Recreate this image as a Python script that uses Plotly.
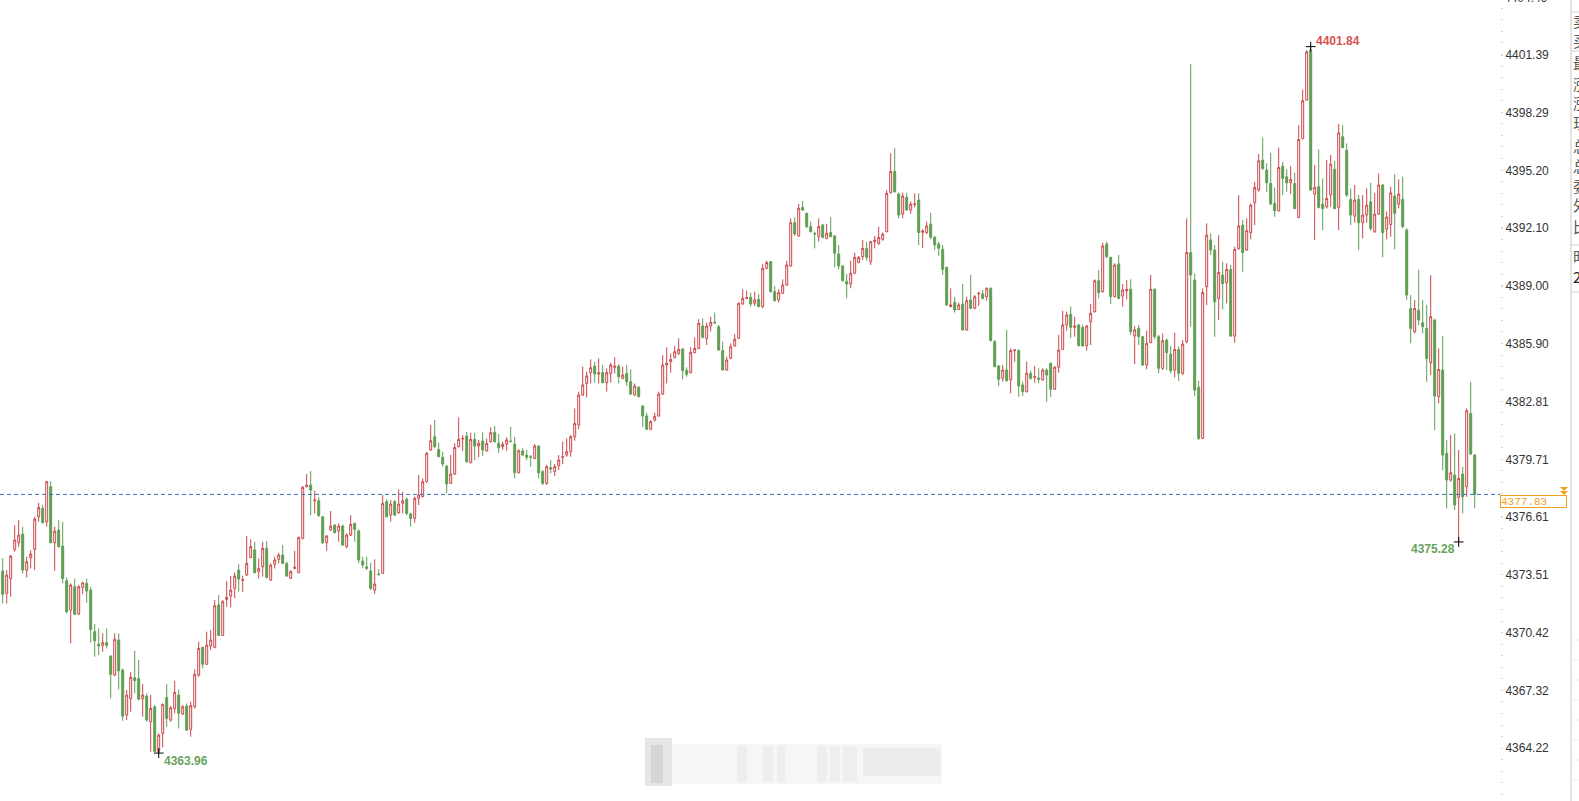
import plotly.graph_objects as go

# ---------------- data ----------------
opens = [
    4373.72, 4372.52, 4373.32, 4374.88, 4375.24, 4375.70, 4373.77, 4374.43, 4374.88, 4376.63,
    4377.08, 4376.36, 4378.24, 4375.24, 4375.92, 4375.06, 4373.20, 4371.63, 4372.88, 4371.41,
    4372.84, 4373.06, 4372.70, 4370.47, 4369.80, 4369.73, 4369.88, 4369.16, 4368.14, 4370.02,
    4368.41, 4366.00, 4366.89, 4368.00, 4367.95, 4366.87, 4367.02, 4365.64, 4366.44, 4364.05,
    4365.01, 4366.94, 4365.73, 4366.35, 4367.07, 4366.05, 4366.48, 4365.23, 4366.44, 4368.14,
    4369.63, 4368.72, 4369.70, 4369.63, 4371.90, 4370.27, 4372.20, 4372.38, 4372.79, 4373.77,
    4373.22, 4373.51, 4374.45, 4374.85, 4373.69, 4373.95, 4374.94, 4373.24, 4374.08, 4374.35,
    4374.58, 4374.13, 4373.33, 4373.86, 4373.63, 4375.47, 4378.24, 4378.33, 4377.49, 4377.49,
    4376.63, 4375.24, 4375.92, 4376.19, 4375.87, 4376.13, 4375.03, 4375.65, 4376.28, 4375.87,
    4374.26, 4373.95, 4373.72, 4372.70, 4373.56, 4373.60, 4377.44, 4376.72, 4377.44, 4376.85,
    4377.35, 4377.58, 4376.78, 4376.54, 4377.62, 4377.71, 4378.51, 4380.21, 4380.92, 4380.24,
    4379.82, 4379.35, 4378.42, 4378.92, 4380.39, 4380.80, 4380.96, 4379.53, 4380.78, 4380.42,
    4380.69, 4380.17, 4380.66, 4381.16, 4380.57, 4380.39, 4380.53, 4380.69, 4380.53, 4378.99,
    4380.16, 4379.94, 4379.85, 4379.76, 4380.42, 4379.05, 4378.42, 4379.26, 4379.05, 4379.37,
    4379.82, 4379.94, 4380.12, 4380.92, 4381.55, 4383.16, 4383.78, 4384.36, 4384.71, 4384.28,
    4384.36, 4383.82, 4384.32, 4384.64, 4384.71, 4384.05, 4384.32, 4383.87, 4383.16, 4383.57,
    4382.57, 4382.03, 4381.32, 4381.82, 4382.03, 4383.21, 4384.77, 4384.95, 4385.18, 4385.39,
    4385.63, 4384.47, 4384.36, 4385.43, 4385.66, 4386.86, 4386.20, 4386.86, 4387.06, 4386.82,
    4385.54, 4384.50, 4385.13, 4385.79, 4386.20, 4388.04, 4388.34, 4388.40, 4388.08, 4388.29,
    4387.90, 4389.95, 4390.31, 4388.70, 4388.26, 4388.61, 4389.06, 4390.08, 4392.40, 4391.69,
    4393.22, 4392.90, 4392.19, 4391.83, 4391.65, 4392.28, 4391.56, 4391.87, 4391.69, 4390.72,
    4390.08, 4389.24, 4389.11, 4389.69, 4390.26, 4390.58, 4391.02, 4390.31, 4391.38, 4391.29,
    4391.51, 4391.92, 4394.01, 4395.14, 4393.94, 4392.87, 4393.76, 4393.08, 4393.37, 4393.62,
    4391.88, 4391.87, 4392.33, 4391.62, 4391.26, 4390.97, 4390.01, 4387.90, 4388.13, 4387.74,
    4388.04, 4386.65, 4388.26, 4387.81, 4388.58, 4388.58, 4388.43, 4388.88, 4386.02, 4384.72,
    4384.06, 4384.50, 4383.97, 4385.54, 4385.54, 4383.70, 4383.34, 4384.32, 4384.11, 4384.06,
    4383.97, 4384.50, 4384.86, 4383.47, 4384.65, 4385.61, 4386.92, 4387.49, 4386.79, 4386.92,
    4386.79, 4385.81, 4387.09, 4387.63, 4389.29, 4388.70, 4391.26, 4390.54, 4388.43, 4390.19,
    4388.47, 4388.74, 4388.83, 4386.33, 4386.74, 4386.29, 4384.77, 4385.97, 4388.83, 4386.29,
    4384.59, 4386.10, 4385.35, 4384.50, 4385.60, 4384.32, 4386.02, 4390.80, 4389.32, 4383.57,
    4380.83, 4388.96, 4391.47, 4390.93, 4388.34, 4389.59, 4389.18, 4389.89, 4386.32, 4391.02,
    4392.27, 4390.93, 4391.86, 4393.47, 4394.15, 4395.76, 4395.22, 4394.50, 4393.43, 4393.04,
    4395.43, 4394.86, 4394.54, 4394.50, 4392.68, 4396.92, 4398.97, 4401.65, 4393.93, 4394.33,
    4393.40, 4393.25, 4393.88, 4395.26, 4393.22, 4397.01, 4396.29, 4393.65, 4392.75, 4393.65,
    4392.40, 4392.81, 4393.52, 4391.91, 4392.86, 4394.42, 4392.05, 4392.30, 4393.83, 4393.40,
    4393.65, 4392.01, 4387.80, 4386.55, 4387.71, 4387.03, 4386.73, 4384.89, 4387.18, 4383.07,
    4384.50, 4380.03, 4378.60, 4378.87, 4377.67, 4378.92, 4378.24, 4382.17, 4379.94,
]
highs = [
    4374.40, 4373.77, 4374.58, 4376.18, 4376.45, 4376.10, 4374.49, 4374.84, 4376.63, 4377.38,
    4377.26, 4378.56, 4378.54, 4376.10, 4376.45, 4376.36, 4373.38, 4373.06, 4373.32, 4372.97,
    4373.15, 4373.32, 4372.88, 4370.88, 4370.64, 4370.38, 4370.64, 4369.21, 4370.38, 4370.38,
    4368.50, 4367.34, 4368.30, 4369.45, 4368.95, 4367.66, 4367.16, 4367.07, 4366.53, 4365.01,
    4366.62, 4367.66, 4366.48, 4367.84, 4367.37, 4366.53, 4366.62, 4366.71, 4368.45, 4369.93,
    4369.66, 4370.47, 4370.56, 4372.17, 4372.43, 4372.17, 4373.18, 4373.45, 4373.65, 4374.10,
    4373.47, 4375.60, 4375.42, 4375.29, 4374.40, 4375.29, 4375.33, 4374.13, 4374.49, 4374.70,
    4375.12, 4374.22, 4373.77, 4374.81, 4375.56, 4378.28, 4378.92, 4379.08, 4378.03, 4377.67,
    4376.67, 4375.65, 4376.94, 4376.22, 4376.28, 4376.22, 4375.74, 4376.72, 4376.31, 4375.95,
    4374.49, 4374.49, 4374.17, 4374.35, 4373.81, 4377.80, 4377.56, 4377.53, 4377.53, 4378.10,
    4377.98, 4377.67, 4376.85, 4377.71, 4378.87, 4378.69, 4380.12, 4381.55, 4381.82, 4380.60,
    4380.12, 4379.41, 4379.94, 4380.57, 4381.96, 4381.01, 4381.19, 4381.14, 4381.14, 4380.75,
    4381.16, 4380.83, 4381.42, 4381.50, 4381.07, 4380.66, 4380.89, 4381.46, 4380.92, 4380.25,
    4380.30, 4380.21, 4379.94, 4380.53, 4380.48, 4379.14, 4379.41, 4379.67, 4379.46, 4379.94,
    4380.66, 4380.83, 4381.01, 4382.44, 4383.34, 4384.68, 4384.41, 4385.07, 4384.95, 4385.12,
    4384.77, 4384.59, 4384.89, 4385.18, 4384.80, 4384.68, 4384.77, 4384.53, 4383.78, 4383.64,
    4382.62, 4382.21, 4381.82, 4382.21, 4383.34, 4385.30, 4385.72, 4385.39, 4385.79, 4386.20,
    4385.66, 4384.64, 4385.72, 4386.25, 4387.22, 4387.27, 4387.04, 4387.36, 4387.58, 4386.91,
    4386.02, 4385.22, 4385.93, 4386.43, 4388.11, 4388.83, 4388.76, 4388.65, 4388.70, 4388.58,
    4390.18, 4390.36, 4390.35, 4389.01, 4388.83, 4389.36, 4390.36, 4392.63, 4392.69, 4393.40,
    4393.56, 4392.94, 4392.46, 4391.92, 4392.63, 4392.33, 4392.33, 4392.69, 4391.74, 4391.20,
    4390.13, 4389.65, 4390.36, 4390.79, 4390.61, 4391.47, 4391.38, 4391.43, 4391.69, 4392.19,
    4391.87, 4394.15, 4396.12, 4396.39, 4394.01, 4394.01, 4394.01, 4393.53, 4393.97, 4393.97,
    4392.04, 4392.46, 4392.94, 4391.69, 4391.38, 4391.20, 4390.04, 4388.88, 4388.43, 4388.11,
    4389.11, 4388.43, 4389.60, 4388.52, 4388.70, 4388.79, 4388.93, 4388.93, 4386.11, 4384.77,
    4384.77, 4386.65, 4385.66, 4385.61, 4385.61, 4383.88, 4384.95, 4384.47, 4384.72, 4384.59,
    4384.59, 4384.59, 4384.90, 4384.72, 4386.38, 4387.68, 4387.63, 4387.90, 4387.36, 4386.97,
    4386.92, 4386.92, 4388.04, 4389.36, 4389.86, 4391.33, 4391.38, 4390.58, 4390.22, 4390.67,
    4389.11, 4389.33, 4389.36, 4386.86, 4386.92, 4386.33, 4386.61, 4389.60, 4388.88, 4386.38,
    4386.46, 4386.19, 4385.78, 4386.50, 4385.78, 4386.10, 4392.63, 4400.90, 4389.68, 4383.92,
    4388.87, 4392.36, 4391.82, 4391.20, 4391.73, 4390.30, 4390.22, 4390.13, 4391.11, 4393.88,
    4392.54, 4392.63, 4393.43, 4394.59, 4396.08, 4396.97, 4395.58, 4396.15, 4394.29, 4396.43,
    4395.66, 4395.26, 4395.43, 4395.08, 4397.63, 4399.54, 4401.65, 4401.84, 4395.49, 4396.33,
    4394.77, 4395.76, 4396.03, 4395.72, 4397.69, 4397.63, 4396.65, 4394.24, 4394.42, 4393.88,
    4393.88, 4394.24, 4394.54, 4394.00, 4395.04, 4394.47, 4393.00, 4394.33, 4395.01, 4394.72,
    4394.87, 4392.10, 4388.52, 4388.25, 4389.87, 4388.25, 4388.00, 4389.59, 4387.25, 4385.66,
    4386.32, 4380.74, 4381.01, 4381.10, 4380.21, 4379.31, 4382.44, 4383.87, 4379.99,
]
lows = [
    4371.98, 4371.98, 4372.34, 4374.76, 4375.02, 4373.59, 4373.38, 4373.86, 4373.77, 4376.36,
    4376.27, 4376.10, 4375.20, 4373.74, 4374.99, 4373.06, 4371.45, 4369.84, 4371.36, 4371.36,
    4372.49, 4372.02, 4369.88, 4369.13, 4369.21, 4369.39, 4369.57, 4366.89, 4368.09, 4367.37,
    4365.69, 4365.73, 4366.18, 4367.16, 4366.80, 4365.91, 4365.64, 4364.03, 4364.02, 4363.96,
    4364.26, 4365.37, 4365.64, 4366.09, 4365.28, 4366.00, 4365.15, 4364.84, 4366.35, 4368.05,
    4368.50, 4368.68, 4369.49, 4369.57, 4370.24, 4370.24, 4371.81, 4371.77, 4372.26, 4372.61,
    4372.61, 4373.45, 4374.40, 4373.60, 4373.33, 4373.42, 4373.33, 4373.20, 4373.86, 4374.13,
    4374.10, 4373.42, 4373.29, 4373.83, 4373.60, 4375.42, 4378.21, 4376.72, 4376.81, 4376.63,
    4375.17, 4374.81, 4375.88, 4375.74, 4375.29, 4375.06, 4374.94, 4375.60, 4375.29, 4374.13,
    4373.86, 4373.77, 4372.70, 4372.49, 4373.51, 4373.56, 4376.60, 4376.37, 4376.67, 4376.78,
    4376.81, 4376.72, 4376.10, 4376.31, 4377.26, 4377.67, 4378.46, 4380.17, 4380.30, 4379.82,
    4379.32, 4377.89, 4378.39, 4378.87, 4380.35, 4380.17, 4379.53, 4379.49, 4379.67, 4379.82,
    4379.89, 4380.12, 4380.60, 4380.60, 4380.07, 4380.21, 4380.17, 4380.64, 4378.69, 4378.96,
    4379.89, 4379.67, 4379.32, 4379.71, 4378.69, 4378.33, 4378.33, 4378.96, 4378.82, 4379.14,
    4379.46, 4379.85, 4379.85, 4380.71, 4381.32, 4383.11, 4383.03, 4383.78, 4383.82, 4383.78,
    4383.78, 4383.34, 4383.82, 4384.32, 4383.78, 4384.00, 4383.64, 4383.16, 4383.11, 4383.03,
    4381.42, 4381.28, 4381.28, 4381.73, 4382.00, 4383.16, 4383.78, 4384.36, 4385.12, 4385.30,
    4384.00, 4384.14, 4384.32, 4385.40, 4385.61, 4386.20, 4385.84, 4386.56, 4386.97, 4385.54,
    4384.47, 4384.47, 4385.07, 4385.75, 4386.15, 4387.99, 4388.29, 4387.90, 4387.93, 4387.86,
    4387.81, 4389.90, 4388.65, 4388.17, 4388.11, 4388.58, 4389.01, 4390.04, 4391.69, 4391.65,
    4393.04, 4392.10, 4391.87, 4391.02, 4391.38, 4391.56, 4391.51, 4391.62, 4390.01, 4389.90,
    4389.24, 4388.34, 4388.88, 4389.65, 4390.22, 4390.40, 4390.36, 4390.13, 4391.02, 4391.20,
    4391.43, 4391.87, 4393.97, 4394.01, 4392.63, 4392.63, 4393.04, 4392.87, 4393.22, 4391.20,
    4391.03, 4391.79, 4391.51, 4390.94, 4390.62, 4389.60, 4387.93, 4387.86, 4387.58, 4387.72,
    4386.61, 4386.61, 4387.76, 4387.76, 4387.93, 4388.29, 4388.22, 4386.02, 4384.65, 4383.64,
    4383.88, 4383.88, 4383.25, 4384.95, 4383.07, 4383.11, 4383.29, 4383.97, 4383.82, 4383.79,
    4383.93, 4382.80, 4383.07, 4383.43, 4384.36, 4385.57, 4386.61, 4386.20, 4386.29, 4385.75,
    4385.75, 4385.54, 4385.84, 4387.58, 4388.34, 4388.65, 4390.49, 4388.04, 4388.40, 4388.29,
    4387.90, 4388.29, 4386.38, 4384.82, 4385.84, 4384.72, 4384.54, 4385.93, 4386.15, 4384.32,
    4384.50, 4384.50, 4384.32, 4384.10, 4383.92, 4384.23, 4385.93, 4386.82, 4383.10, 4380.74,
    4380.80, 4387.98, 4390.66, 4386.28, 4387.18, 4387.75, 4388.07, 4386.28, 4385.96, 4390.93,
    4389.77, 4390.89, 4391.50, 4392.27, 4394.06, 4395.22, 4394.06, 4393.34, 4392.72, 4392.99,
    4393.88, 4394.06, 4393.93, 4393.11, 4392.63, 4396.86, 4398.94, 4394.11, 4391.47, 4393.16,
    4392.00, 4393.16, 4393.25, 4393.11, 4392.00, 4396.38, 4393.79, 4392.27, 4392.40, 4390.93,
    4391.56, 4392.40, 4391.97, 4391.86, 4392.81, 4390.54, 4391.50, 4391.64, 4390.97, 4393.17,
    4392.10, 4388.25, 4385.93, 4386.46, 4386.91, 4386.46, 4383.87, 4384.23, 4381.28, 4382.71,
    4379.14, 4377.08, 4378.51, 4376.99, 4375.28, 4376.81, 4377.70, 4379.94, 4377.08,
]
closes = [
    4372.47, 4373.50, 4374.52, 4375.38, 4375.65, 4373.77, 4374.22, 4374.63, 4376.51, 4377.13,
    4376.31, 4378.51, 4375.24, 4375.86, 4375.02, 4373.32, 4371.54, 4372.97, 4371.40, 4372.88,
    4373.09, 4372.65, 4370.59, 4369.98, 4369.70, 4369.88, 4369.73, 4368.18, 4370.06, 4368.37,
    4365.94, 4367.07, 4368.02, 4367.84, 4366.84, 4367.07, 4365.73, 4366.35, 4364.05, 4364.92,
    4366.57, 4365.82, 4366.39, 4367.21, 4366.09, 4366.44, 4365.19, 4366.50, 4368.18, 4369.57,
    4368.72, 4369.75, 4370.02, 4371.86, 4370.27, 4372.08, 4372.31, 4372.70, 4373.45, 4373.29,
    4373.26, 4374.13, 4375.03, 4373.63, 4373.86, 4374.94, 4373.38, 4374.04, 4374.31, 4374.58,
    4374.13, 4373.45, 4373.69, 4373.92, 4375.53, 4378.21, 4378.33, 4378.06, 4377.53, 4376.69,
    4375.24, 4375.60, 4376.13, 4375.78, 4376.13, 4375.12, 4375.65, 4376.22, 4375.95, 4374.31,
    4374.04, 4373.86, 4372.79, 4373.02, 4373.52, 4377.35, 4376.63, 4377.31, 4376.72, 4377.31,
    4377.49, 4376.81, 4376.54, 4377.62, 4377.80, 4378.51, 4380.03, 4380.71, 4380.39, 4379.85,
    4379.46, 4378.39, 4378.92, 4380.35, 4380.78, 4380.83, 4379.58, 4380.78, 4380.42, 4380.57,
    4380.21, 4380.57, 4381.14, 4380.66, 4380.33, 4380.51, 4380.75, 4380.66, 4378.99, 4380.17,
    4379.94, 4379.82, 4379.82, 4380.42, 4378.99, 4378.42, 4379.32, 4379.19, 4379.32, 4379.67,
    4379.85, 4380.12, 4380.92, 4381.64, 4383.16, 4383.70, 4384.18, 4384.62, 4384.28, 4384.36,
    4383.82, 4384.36, 4384.77, 4384.71, 4384.14, 4384.23, 4383.87, 4383.21, 4383.64, 4383.07,
    4382.03, 4381.32, 4381.73, 4382.00, 4383.21, 4384.77, 4384.86, 4385.07, 4385.48, 4385.61,
    4384.47, 4384.27, 4385.45, 4385.66, 4387.00, 4386.25, 4386.86, 4387.06, 4387.02, 4385.57,
    4384.50, 4385.04, 4385.75, 4386.15, 4388.08, 4388.34, 4388.38, 4388.04, 4388.26, 4387.90,
    4389.95, 4390.26, 4388.70, 4388.22, 4388.65, 4389.06, 4390.13, 4392.40, 4391.79, 4393.17,
    4393.08, 4392.19, 4391.92, 4391.79, 4392.19, 4391.61, 4391.83, 4391.65, 4390.76, 4390.08,
    4389.29, 4389.11, 4389.69, 4390.54, 4390.54, 4391.02, 4390.54, 4391.38, 4391.47, 4391.61,
    4391.79, 4393.97, 4395.14, 4394.06, 4392.81, 4393.83, 4393.08, 4393.40, 4393.40, 4391.87,
    4391.96, 4392.22, 4391.62, 4391.20, 4391.03, 4389.90, 4387.99, 4387.99, 4387.72, 4387.99,
    4386.65, 4388.22, 4387.81, 4388.43, 4388.61, 4388.34, 4388.88, 4386.08, 4384.68, 4384.00,
    4384.50, 4383.93, 4385.54, 4385.57, 4383.64, 4383.34, 4384.32, 4384.06, 4384.14, 4384.00,
    4384.50, 4384.23, 4383.47, 4384.65, 4385.57, 4386.92, 4387.45, 4386.79, 4386.86, 4385.81,
    4385.79, 4386.86, 4387.54, 4389.29, 4388.65, 4391.15, 4390.58, 4388.43, 4390.13, 4388.34,
    4388.79, 4388.83, 4386.56, 4386.65, 4386.29, 4384.77, 4385.93, 4388.83, 4386.29, 4384.59,
    4386.07, 4385.43, 4384.46, 4385.60, 4384.32, 4385.89, 4390.80, 4389.59, 4383.42, 4380.83,
    4388.66, 4391.73, 4390.93, 4388.16, 4389.73, 4389.14, 4389.89, 4386.32, 4390.97, 4392.22,
    4390.79, 4391.97, 4393.34, 4394.29, 4395.72, 4395.31, 4394.54, 4393.40, 4393.04, 4395.36,
    4394.77, 4394.54, 4394.72, 4393.16, 4396.86, 4398.94, 4401.56, 4394.15, 4394.29, 4393.22,
    4393.16, 4393.70, 4395.54, 4393.16, 4397.22, 4396.43, 4393.88, 4392.81, 4393.61, 4392.40,
    4392.81, 4393.34, 4392.09, 4392.86, 4394.42, 4391.86, 4392.70, 4394.00, 4392.90, 4393.94,
    4392.19, 4388.52, 4386.73, 4387.80, 4387.18, 4386.82, 4385.12, 4387.36, 4383.10, 4384.53,
    4379.94, 4378.60, 4378.99, 4377.26, 4378.69, 4377.70, 4382.32, 4379.99, 4377.83,
]
bar_index = list(range(len(opens)))

tick_vals = [4364.22, 4367.32, 4370.42, 4373.51, 4376.61, 4379.71, 4382.81,
             4385.90, 4389.00, 4392.10, 4395.20, 4398.29, 4401.39]
tick_text = ["4364.22", "4367.32", "4370.42", "4373.51", "4376.61", "4379.71", "4382.81",
             "4385.90", "4389.00", "4392.10", "4395.20", "4398.29", "4401.39"]
top_tick_text = "4404.49"
last_price = 4377.83
high_mark = (327, 4401.84)
low_mark = (39, 4363.96)
low2_mark = (364, 4375.28)
panel_chars = ["卖", "买", "最", "涨", "涨", "现", "总", "总", "委", "外", "比", "时", "2"]

# ---------------- style ----------------
W, H = 1579, 801
PLOT_W = 1500
RED = "#c9474b"
GREEN = "#5e9e52"
LBL_GREEN = "#67a35c"
ORANGE = "#f0a020"
BLUE = "#3a70b8"


def px(xp):
    return xp / PLOT_W


def py(yp):
    return 1 - yp / H


fig = go.Figure()
fig.add_trace(go.Candlestick(
    x=bar_index, open=opens, high=highs, low=lows, close=closes,
    increasing=dict(line=dict(color=RED, width=1), fillcolor="white"),
    decreasing=dict(line=dict(color=GREEN, width=1), fillcolor=GREEN),
    whiskerwidth=0, hoverinfo="skip", showlegend=False,
))

# extreme markers
fig.add_trace(go.Scatter(
    x=[high_mark[0], low_mark[0], low2_mark[0]],
    y=[high_mark[1], low_mark[1], low2_mark[1]],
    mode="markers", hoverinfo="skip", showlegend=False,
    marker=dict(symbol="cross-thin", size=7, line=dict(color="black", width=1), color="black"),
))

shapes = []
# last price dashed line
shapes.append(dict(type="line", xref="paper", yref="y", x0=0, x1=1, y0=last_price, y1=last_price,
                   line=dict(color=BLUE, width=1, dash="4px,3px"), layer="above"))
# orange double triangles
shapes.append(dict(type="path", xref="paper", yref="paper",
                   path=(f"M{px(1560)},{py(487)} L{px(1568)},{py(487)} L{px(1564)},{py(491)} Z "
                         f"M{px(1560)},{py(491)} L{px(1568)},{py(491)} L{px(1564)},{py(495)} Z"),
                   fillcolor=ORANGE, line=dict(color=ORANGE, width=0)))
# right panel border and separators
shapes.append(dict(type="line", xref="paper", yref="paper", x0=px(1571), x1=px(1571), y0=0, y1=1,
                   line=dict(color="#c8c8c8", width=1)))
for yy in [12, 51, 245, 292]:
    shapes.append(dict(type="line", xref="paper", yref="paper", x0=px(1571), x1=px(1579),
                       y0=py(yy), y1=py(yy), line=dict(color="#d0d0d0", width=1)))
for yy in [640, 660, 680, 700, 720, 740, 760, 780]:
    shapes.append(dict(type="line", xref="paper", yref="paper", x0=px(1571), x1=px(1579),
                       y0=py(yy), y1=py(yy), line=dict(color="#f0f0f0", width=1)))
# faint blurred watermark
shapes.append(dict(type="rect", xref="paper", yref="paper", x0=px(645), x1=px(942), y0=py(784), y1=py(744),
                   fillcolor="#f6f6f6", line=dict(width=0), layer="below"))
shapes.append(dict(type="rect", xref="paper", yref="paper", x0=px(645), x1=px(672), y0=py(786), y1=py(738),
                   fillcolor="#e6e6e6", line=dict(width=0), layer="below"))
shapes.append(dict(type="rect", xref="paper", yref="paper", x0=px(651), x1=px(663), y0=py(783), y1=py(745),
                   fillcolor="#d6d6d6", line=dict(width=0), layer="below"))
for a, b in [(737, 747), (763, 773), (777, 785), (817, 827), (830, 840), (843, 857)]:
    shapes.append(dict(type="rect", xref="paper", yref="paper", x0=px(a), x1=px(b), y0=py(782), y1=py(746),
                       fillcolor="#eeeeee", line=dict(width=0), layer="below"))
shapes.append(dict(type="rect", xref="paper", yref="paper", x0=px(863), x1=px(940), y0=py(776), y1=py(748),
                   fillcolor="#ededed", line=dict(width=0), layer="below"))

annotations = []
annotations.append(dict(x=high_mark[0], y=high_mark[1], xref="x", yref="y", text=f"{high_mark[1]:.2f}",
                        showarrow=False, xanchor="left", yanchor="middle", xshift=3, yshift=6,
                        font=dict(family="Liberation Sans, Arial", size=12, color="#d9534f", weight="bold")))
annotations.append(dict(x=low_mark[0], y=low_mark[1], xref="x", yref="y", text=f"{low_mark[1]:.2f}",
                        showarrow=False, xanchor="left", yanchor="middle", xshift=3, yshift=-8,
                        font=dict(family="Liberation Sans, Arial", size=12, color=LBL_GREEN, weight="bold")))
annotations.append(dict(x=low2_mark[0], y=low2_mark[1], xref="x", yref="y", text=f"{low2_mark[1]:.2f}",
                        showarrow=False, xanchor="right", yanchor="middle", xshift=-2, yshift=-7,
                        font=dict(family="Liberation Sans, Arial", size=12, color=LBL_GREEN, weight="bold")))
# last price tag
annotations.append(dict(x=1, y=last_price, xref="paper", yref="y", text=f"{last_price:.2f}",
                        showarrow=False, xanchor="left", yanchor="top", yshift=-1,
                        width=65, height=11, align="left", valign="middle", borderpad=0,
                        bordercolor=ORANGE, borderwidth=1, bgcolor="white",
                        font=dict(family="Liberation Mono, monospace", size=11, color=ORANGE)))
# top tick label, partly above the window edge as in the reference
annotations.append(dict(x=1, y=py(-2), xref="paper", yref="paper", text=top_tick_text,
                        showarrow=False, xanchor="left", yanchor="middle", xshift=2,
                        font=dict(family="Liberation Sans, Arial", size=12, color="#333333")))
# right side panel characters (clipped by the window edge, as in the reference)
panel_y = [21, 40, 63, 83, 103, 123, 145, 165, 185, 205, 226, 255, 277]
for ch, yy in zip(panel_chars, panel_y):
    annotations.append(dict(x=px(1571), y=py(yy), xref="paper", yref="paper", text=ch,
                            showarrow=False, xanchor="left", yanchor="middle",
                            font=dict(family="Noto Sans CJK SC", size=15,
                                      color="#222222" if ch == "2" else "#555555")))

fig.update_layout(
    width=W, height=H,
    margin=dict(l=0, r=W - PLOT_W, t=0, b=0),
    paper_bgcolor="white", plot_bgcolor="white",
    boxgap=0.3,
    showlegend=False,
    shapes=shapes,
    annotations=annotations,
    xaxis=dict(range=[-0.675, 374.325], visible=False, showgrid=False, zeroline=False,
               rangeslider=dict(visible=False), fixedrange=True),
    yaxis=dict(side="right", range=[4361.39, 4404.34], tickmode="array",
               tickvals=tick_vals, ticktext=tick_text, showgrid=False, zeroline=False,
               showline=False, ticks="outside", ticklen=2, tickcolor="#d6d6d6", tickwidth=1,
               tickfont=dict(family="Liberation Sans, Arial", size=12, color="#333333"),
               minor=dict(tickmode="linear", tick0=4364.22, dtick=0.62, ticks="outside",
                          ticklen=2, tickcolor="#d6d6d6", tickwidth=1, showgrid=False),
               fixedrange=True),
)

fig.write_html("out.html",
               config={"displayModeBar": False},
               post_script="document.body.style.margin='0px';document.body.style.overflow='hidden';")
